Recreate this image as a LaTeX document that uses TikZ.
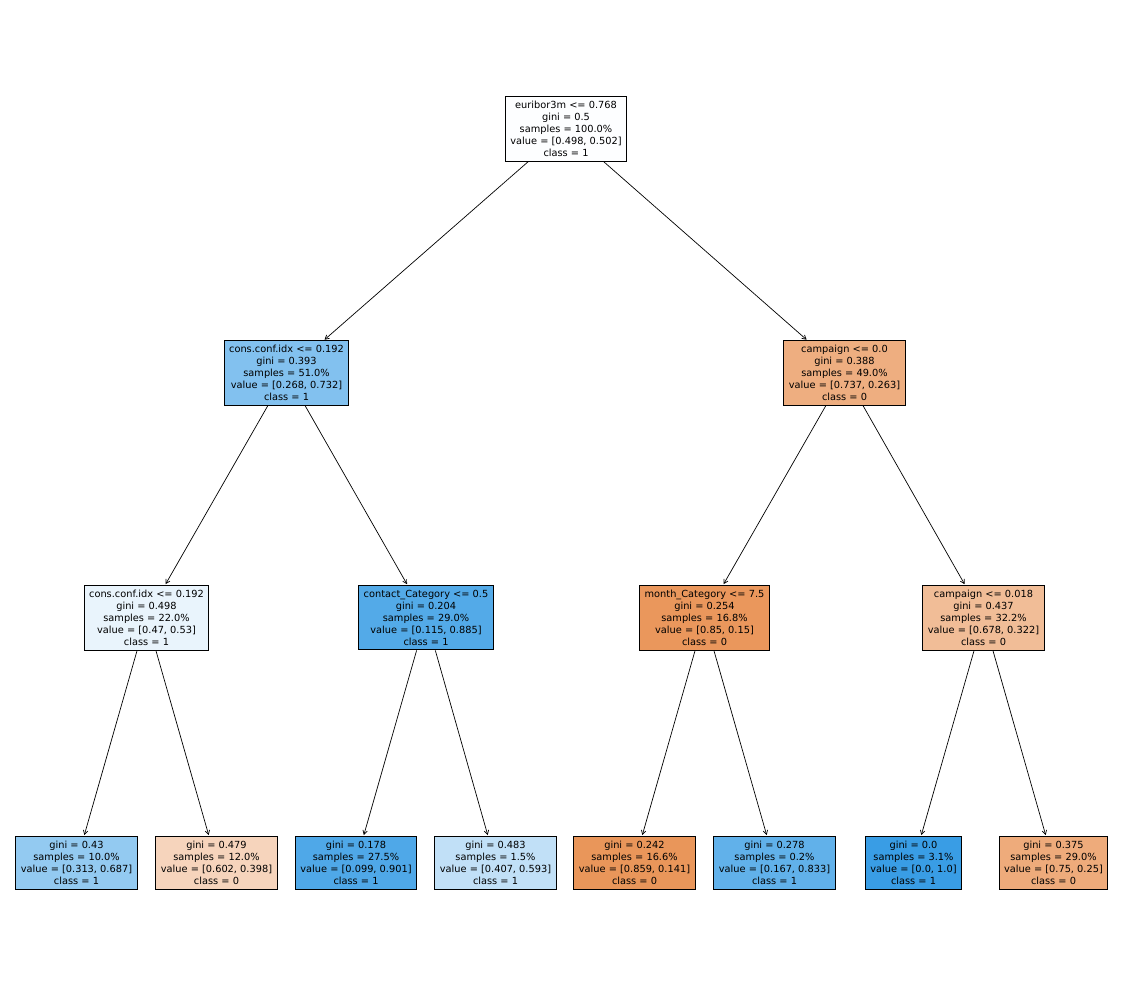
\documentclass[tikz,border=0pt]{standalone}
\usepackage{fontspec}
\setmainfont{DejaVu Sans}
\usetikzlibrary{arrows.meta}
\definecolor{c0}{RGB}{253,254,255}
\definecolor{c1}{RGB}{130,193,239}
\definecolor{c2}{RGB}{238,174,128}
\definecolor{c3}{RGB}{233,244,252}
\definecolor{c4}{RGB}{83,170,232}
\definecolor{c5}{RGB}{234,151,92}
\definecolor{c6}{RGB}{241,189,151}
\definecolor{l1}{RGB}{147,202,241}
\definecolor{l2}{RGB}{246,212,188}
\definecolor{l3}{RGB}{79,168,232}
\definecolor{l4}{RGB}{193,224,247}
\definecolor{l5}{RGB}{233,150,90}
\definecolor{l6}{RGB}{97,177,234}
\definecolor{l7}{RGB}{57,157,229}
\definecolor{l8}{RGB}{238,171,123}
\tikzset{
  treenode/.style={draw=black, line width=0.9pt, align=center, inner xsep=5pt, inner ysep=4.7pt,
    font=\fontsize{9.8}{12}\selectfont},
  edge/.style={line width=0.7pt, -{Straight Barb[length=4pt,width=4.5pt]}, shorten >=0.5pt}
}
\begin{document}
\begin{tikzpicture}[x=1pt,y=-1pt]
\useasboundingbox (0,0) rectangle (1130,992);
\node[treenode, fill=c0] (r) at (566,128.5) {euribor3m <= 0.768\\gini = 0.5\\samples = 100.0\%\\value = [0.498, 0.502]\\class = 1};
\node[treenode, fill=c1] (a) at (286.5,373) {cons.conf.idx <= 0.192\\gini = 0.393\\samples = 51.0\%\\value = [0.268, 0.732]\\class = 1};
\node[treenode, fill=c2] (b) at (844.5,373) {campaign <= 0.0\\gini = 0.388\\samples = 49.0\%\\value = [0.737, 0.263]\\class = 0};
\node[treenode, fill=c3] (aa) at (146.5,617.5) {cons.conf.idx <= 0.192\\gini = 0.498\\samples = 22.0\%\\value = [0.47, 0.53]\\class = 1};
\node[treenode, fill=c4] (ab) at (426,617.5) {contact\_Category <= 0.5\\gini = 0.204\\samples = 29.0\%\\value = [0.115, 0.885]\\class = 1};
\node[treenode, fill=c5] (ba) at (704.5,617.5) {month\_Category <= 7.5\\gini = 0.254\\samples = 16.8\%\\value = [0.85, 0.15]\\class = 0};
\node[treenode, fill=c6] (bb) at (983.5,617.5) {campaign <= 0.018\\gini = 0.437\\samples = 32.2\%\\value = [0.678, 0.322]\\class = 0};
\node[treenode, fill=l1] (aaa) at (76.5,862.5) {gini = 0.43\\samples = 10.0\%\\value = [0.313, 0.687]\\class = 1};
\node[treenode, fill=l2] (aab) at (216.5,862.5) {gini = 0.479\\samples = 12.0\%\\value = [0.602, 0.398]\\class = 0};
\node[treenode, fill=l3] (aba) at (356,862.5) {gini = 0.178\\samples = 27.5\%\\value = [0.099, 0.901]\\class = 1};
\node[treenode, fill=l4] (abb) at (495.5,862.5) {gini = 0.483\\samples = 1.5\%\\value = [0.407, 0.593]\\class = 1};
\node[treenode, fill=l5] (baa) at (634.5,862.5) {gini = 0.242\\samples = 16.6\%\\value = [0.859, 0.141]\\class = 0};
\node[treenode, fill=l6] (bab) at (774.5,862.5) {gini = 0.278\\samples = 0.2\%\\value = [0.167, 0.833]\\class = 1};
\node[treenode, fill=l7] (bba) at (913.5,862.5) {gini = 0.0\\samples = 3.1\%\\value = [0.0, 1.0]\\class = 1};
\node[treenode, fill=l8] (bbb) at (1053.5,862.5) {gini = 0.375\\samples = 29.0\%\\value = [0.75, 0.25]\\class = 0};
\draw[edge] (r) -- (a);
\draw[edge] (r) -- (b);
\draw[edge] (a) -- (aa);
\draw[edge] (a) -- (ab);
\draw[edge] (b) -- (ba);
\draw[edge] (b) -- (bb);
\draw[edge] (aa) -- (aaa);
\draw[edge] (aa) -- (aab);
\draw[edge] (ab) -- (aba);
\draw[edge] (ab) -- (abb);
\draw[edge] (ba) -- (baa);
\draw[edge] (ba) -- (bab);
\draw[edge] (bb) -- (bba);
\draw[edge] (bb) -- (bbb);
\end{tikzpicture}
\end{document}
